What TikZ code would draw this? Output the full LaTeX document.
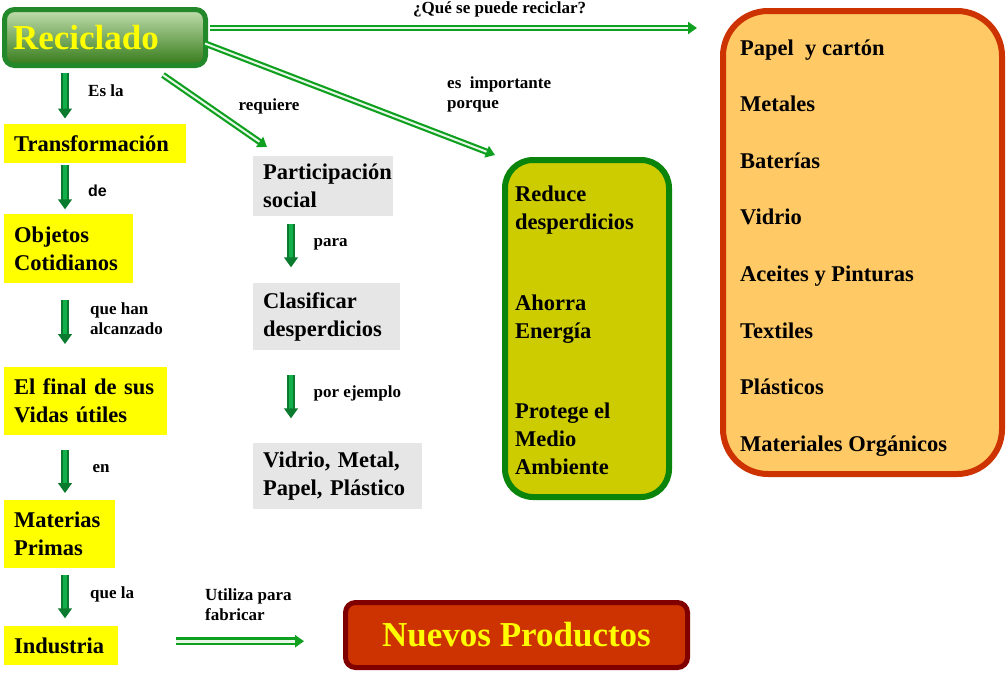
\documentclass[tikz,border=0pt]{standalone}
\usepackage{fontspec}
\setmainfont{Liberation Serif}
\newfontfamily\arialfont{Liberation Sans}
\usepackage{tikz}
\usetikzlibrary{positioning,arrows.meta}
\hyphenpenalty=10000

\definecolor{verdeborde}{HTML}{23882A}
\definecolor{verdeclaro}{HTML}{C2DEAE}
\definecolor{verdeoscuro}{HTML}{347A18}
\definecolor{amarillo}{HTML}{FFFF00}
\definecolor{grisclaro}{HTML}{E6E6E6}
\definecolor{oliva}{HTML}{CCCC00}
\definecolor{verdemarco}{HTML}{0A840A}
\definecolor{naranja}{HTML}{FFC966}
\definecolor{rojizo}{HTML}{CC3300}
\definecolor{granate}{HTML}{800000}
\definecolor{flecha}{HTML}{12B04A}
\definecolor{flechaborde}{HTML}{0A7A2E}
\definecolor{verdelinea}{HTML}{10A020}
\definecolor{nucleo}{HTML}{E8F8E8}

\begin{document}
\begin{tikzpicture}[x=1pt,y=-1pt]
	\tikzstyle{titulo}=[rounded corners=10pt, draw=verdeborde, line width=5pt, top color=verdeclaro, bottom color=verdeoscuro, text=amarillo, font=\bfseries\fontsize{35}{40}\selectfont, minimum width=201pt, minimum height=56pt, inner xsep=8.5pt, text width=184pt, align=left]
	\tikzstyle{producto}=[rounded corners=10pt, draw=granate, fill=rojizo, line width=5pt, text=amarillo, font=\bfseries\fontsize{35}{40}\selectfont, minimum width=342pt, minimum height=65pt]
	\tikzstyle{amarilla}=[fill=amarillo, anchor=north west, inner xsep=10pt, inner ysep=0pt, align=left, font=\bfseries\fontsize{22.5}{28}\selectfont]
	\tikzstyle{cajagris}=[amarilla, fill=grisclaro]
	\tikzstyle{etiqueta}=[anchor=base west, inner sep=0pt, align=left, font=\bfseries\fontsize{17}{20.5}\selectfont]
	\tikzstyle{texto}=[anchor=base west, inner sep=0pt, align=left, font=\bfseries\fontsize{22.5}{28}\selectfont]
	\tikzstyle{bajada}=[draw=flechaborde, line width=1.4pt, double=flecha, double distance=4.8pt, -{Triangle[width=14pt,length=10pt]}]
	\tikzstyle{larga}=[draw=verdelinea, line width=2.2pt, double=nucleo, double distance=2pt, -{Triangle[width=12pt,length=9pt]}]
	\useasboundingbox (0,0) rectangle (1008,672);
	% main concept
		\node[titulo] (rec) at (105,37.5) {Reciclado};
	% left column
		\node[amarilla, minimum width=182pt, minimum height=39pt, text width=162pt] (trans) at (4,124) {Transformación};
		\node[amarilla, minimum width=129pt, minimum height=69pt, text width=109pt] (obj) at (4,214) {Objetos\\Cotidianos};
		\node[amarilla, minimum width=163pt, minimum height=68pt, text width=143pt] (fin) at (4,367) {El final de sus\\Vidas útiles};
		\node[amarilla, minimum width=111pt, minimum height=68pt, text width=91pt] (mat) at (4,500) {Materias\\Primas};
		\node[amarilla, minimum width=114pt, minimum height=39pt, text width=94pt] (ind) at (4,626) {Industria};
		\node[producto] (nuevos) at (516.5,635) {Nuevos Productos};
		\coordinate (colizq) at (65,0);
			\draw[bajada, shorten <=5pt, shorten >=5.5pt] (rec.south -| colizq) -- (trans.north -| colizq);
			\draw[bajada, shorten <=2pt, shorten >=4.7pt] (trans.south -| colizq) -- (obj.north -| colizq);
			\draw[bajada, shorten <=16.3pt, shorten >=23pt] (obj.south -| colizq) -- (fin.north -| colizq);
			\draw[bajada, shorten <=15pt, shorten >=7pt] (fin.south -| colizq) -- (mat.north -| colizq);
			\draw[bajada, shorten <=7pt, shorten >=7.7pt] (mat.south -| colizq) -- (ind.north -| colizq);
			\draw[larga, line width=2.6pt, double distance=2.6pt, shorten <=58pt, shorten >=39pt] ([yshift=4.5pt]ind.east) -- ([yshift=4.5pt]ind.east -| nuevos.west);
		\node[etiqueta] (esla) at (88,96.5) {Es la};
		\node[etiqueta, font=\arialfont\bfseries\fontsize{16}{19}\selectfont] (de) at (88,196) {de};
		\node[etiqueta] (quehan) at (90,334.5) {que han\\alcanzado};
		\node[etiqueta] (en) at (92.5,472.5) {en};
		\node[etiqueta] (quela) at (90,598) {que la};
		\node[etiqueta] (utiliza) at (205,620.5) {Utiliza para\\fabricar};
	% middle column
		\node[cajagris, minimum width=140pt, minimum height=60pt, text width=120pt] (part) at (253,156) {Participación\\social};
		\node[cajagris, minimum width=147pt, minimum height=67pt, text width=127pt] (clas) at (253,283) {Clasificar\\desperdicios};
		\node[cajagris, minimum width=169pt, minimum height=66pt, text width=149pt] (vid) at (253,443) {Vidrio, Metal,\\Papel, Plástico};
		\coordinate (colmed) at (291,0);
			\draw[bajada, shorten <=8pt, shorten >=15.7pt] (part.south -| colmed) -- (clas.north -| colmed);
			\draw[bajada, shorten <=25pt, shorten >=24.7pt] (clas.south -| colmed) -- (vid.north -| colmed);
		\node[etiqueta] (requiere) at (238.5,110.5) {requiere};
		\node[etiqueta] (para) at (313.5,246) {para};
		\node[etiqueta] (porej) at (313.5,397) {por ejemplo};
	% reasons
		\node[rounded corners=28pt, draw=verdemarco, fill=oliva, line width=6pt, minimum width=164pt, minimum height=337pt] (razones) at (587,328.5) {};
		\node[texto] (reduce) at (515,229.5) {Reduce\\desperdicios};
		\node[texto] (ahorra) at (515,338.5) {Ahorra\\Energía};
		\node[texto] (protege) at (515,474.5) {Protege el\\Medio\\Ambiente};
		\node[etiqueta] (importante) at (447,108.5) {es\ \ importante\\porque};
	% what can be recycled
		\node[rounded corners=45pt, draw=rojizo, fill=naranja, line width=6pt, minimum width=279pt, minimum height=463pt] (materiales) at (862.5,242.5) {};
		\node[texto] (papel) at (740,55) {Papel\ \ y cartón};
		\node[texto] (metales) at (740,111.6) {Metales};
		\node[texto] (baterias) at (740,168.2) {Baterías};
		\node[texto] (vidrio) at (740,224.8) {Vidrio};
		\node[texto] (aceites) at (740,281.4) {Aceites y Pinturas};
		\node[texto] (textiles) at (740,338) {Textiles};
		\node[texto] (plasticos) at (740,394.6) {Plásticos};
		\node[texto] (organicos) at (740,451.2) {Materiales Orgánicos};
		\node[etiqueta] (pregunta) at (413,13.5) {¿Qué se puede reciclar?};
	% links from the main concept
			\draw[larga, shorten <=2pt, shorten >=23pt] ([yshift=9.5pt]rec.east) -- ([yshift=9.5pt]rec.east -| materiales.west);
			\draw[larga] ([xshift=-3pt,yshift=-6pt]rec.east) -- ([xshift=-7pt,yshift=2pt]razones.north west);
			\draw[larga] ([xshift=-45pt,yshift=-7pt]rec.south east) -- ([xshift=14pt,yshift=9pt]part.north west);
\end{tikzpicture}
\end{document}
